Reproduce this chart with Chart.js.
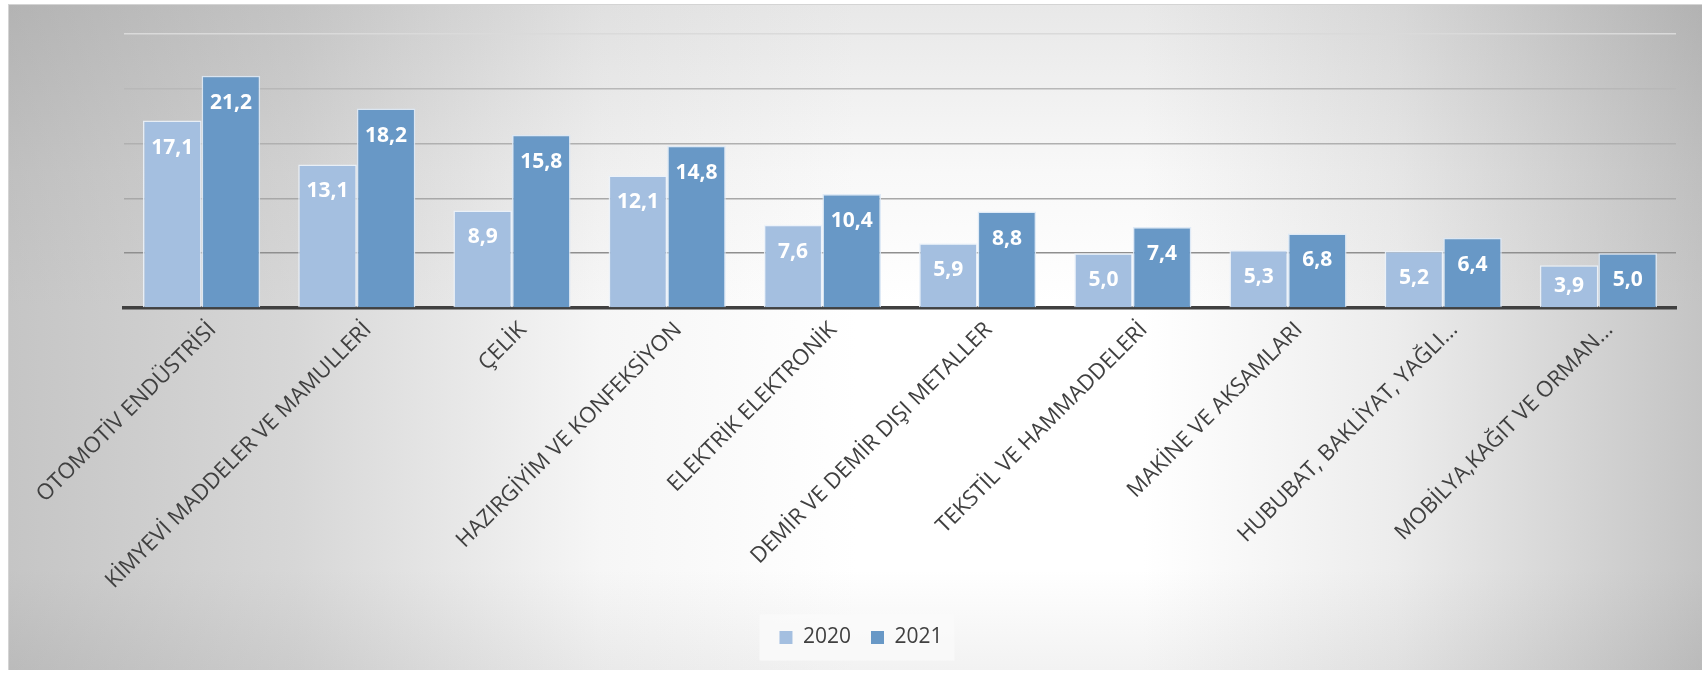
<!DOCTYPE html>
<html>
<head>
<meta charset="utf-8">
<script src="https://cdn.jsdelivr.net/npm/chart.js@4"></script>
<style>
  html, body { margin: 0; padding: 0; background: #fff; }
  body { width: 1702px; height: 673px; position: relative; overflow: hidden; }
  #box {
    position: absolute; left: 8px; top: 4px; width: 1694px; height: 666px;
    border-top: 1px solid #d4d4d4; border-left: 1px solid #d4d4d4;
    box-sizing: border-box;
    background-image:
      linear-gradient(to right, #c5c5c5 0%, #d7d7d7 17%, #f6f6f6 35%, #ffffff 50%, #ffffff 67%, #ececec 82%, #c4c4c4 100%),
      linear-gradient(to bottom, #e8e8e8 0%, #f8f8f8 25%, #ffffff 45%, #ffffff 85%, #f2f2f2 100%);
    background-blend-mode: multiply;
  }
  #wrap { position: absolute; left: 0; top: 0; width: 1693px; height: 665px; }
</style>
</head>
<body>
<div id="box"><div id="wrap"><canvas id="exportChart"></canvas></div></div>
<script>
const categories = [
  'OTOMOTİV ENDÜSTRİSİ',
  'KİMYEVİ MADDELER VE MAMULLERİ',
  'ÇELİK',
  'HAZIRGİYİM VE KONFEKSİYON',
  'ELEKTRİK ELEKTRONİK',
  'DEMİR VE DEMİR DIŞI METALLER',
  'TEKSTİL VE HAMMADDELERİ',
  'MAKİNE VE AKSAMLARI',
  'HUBUBAT, BAKLİYAT, YAĞLI...',
  'MOBİLYA,KAĞIT VE ORMAN...'
];
const values2020 = [17.1, 13.1, 8.9, 12.1, 7.6, 5.9, 5.0, 5.3, 5.2, 3.9];
const values2021 = [21.2, 18.2, 15.8, 14.8, 10.4, 8.8, 7.4, 6.8, 6.4, 5.0];
const seriesNames = ['2020', '2021'];
const yMax = 25;
const yStep = 5;

const gridColors = { 5: '#8f8f8f', 10: '#a8a8a8', 15: '#b0b0b0', 20: '#b8b8b8', 25: '#dadada' };

// white value labels inside the top of each bar
const barLabels = {
  id: 'barLabels',
  afterDatasetsDraw(chart) {
    const ctx = chart.ctx;
    ctx.save();
    ctx.fillStyle = '#ffffff';
    ctx.font = 'bold 21px "Open Sans"';
    ctx.textAlign = 'center';
    ctx.textBaseline = 'middle';
    chart.data.datasets.forEach(function (ds, i) {
      chart.getDatasetMeta(i).data.forEach(function (bar, j) {
        const top = bar.y, base = bar.base;
        const y = Math.min(top + 27, (top + base) / 2);
        ctx.fillText(ds.data[j].toFixed(1).replace('.', ','), bar.x, y);
      });
    });
    ctx.restore();
  }
};

// light panel behind the legend
const legendPanel = {
  id: 'legendPanel',
  beforeDraw(chart) {
    const lg = chart.legend;
    if (!lg || !lg.legendHitBoxes.length) return;
    const boxes = lg.legendHitBoxes;
    const left = boxes[0].left - 20;
    const last = boxes[boxes.length - 1];
    const right = last.left + last.width + 12;
    const cy = boxes[0].top + boxes[0].height / 2;
    const ctx = chart.ctx;
    ctx.save();
    ctx.fillStyle = 'rgba(250,250,250,0.9)';
    ctx.fillRect(left, cy - 23, right - left, 46);
    ctx.restore();
  }
};

const ctx = document.getElementById('exportChart').getContext('2d');
new Chart(ctx, {
  type: 'bar',
  data: {
    labels: categories,
    datasets: [{
      label: seriesNames[0],
      data: values2020,
      backgroundColor: '#a4bfe0',
      borderColor: 'rgba(235,242,250,0.9)',
      borderWidth: 1.5,
      barPercentage: 1,
      categoryPercentage: 0.755
    }, {
      label: seriesNames[1],
      data: values2021,
      backgroundColor: '#6898c6',
      borderColor: 'rgba(220,232,245,0.9)',
      borderWidth: 1.5,
      barPercentage: 1,
      categoryPercentage: 0.755
    }]
  },
  options: {
    responsive: true,
    maintainAspectRatio: false,
    animation: false,
    layout: { padding: { left: 37, right: 26, top: 29, bottom: 12 } },
    scales: {
      x: {
        grid: { display: false },
        border: { display: true, color: '#404040', width: 3.5 },
        ticks: {
          autoSkip: false,
          minRotation: 45,
          maxRotation: 45,
          padding: 1,
          labelOffset: 11,
          color: '#404040',
          font: { family: '"Open Sans"', size: 22 }
        },
        afterFit(scale) { scale.height = 299; }
      },
      y: {
        min: 0,
        max: yMax,
        ticks: { display: false, stepSize: yStep },
        border: { display: false },
        grid: {
          drawTicks: false,
          lineWidth: 1.5,
          color: function (c) {
            const v = c.tick ? c.tick.value : 0;
            return gridColors[v] || 'rgba(0,0,0,0)';
          }
        },
        afterFit(scale) { scale.width = 78; }
      }
    },
    plugins: {
      legend: {
        position: 'bottom',
        labels: {
          boxWidth: 13,
          boxHeight: 13,
          padding: 20,
          color: '#404040',
          font: { family: '"Open Sans"', size: 21 },
          generateLabels(chart) {
            return chart.data.datasets.map(function (ds, i) {
              return {
                text: ds.label,
                fillStyle: ds.backgroundColor,
                strokeStyle: 'rgba(0,0,0,0)',
                lineWidth: 0,
                fontColor: '#404040',
                datasetIndex: i,
                hidden: false
              };
            });
          }
        }
      },
      tooltip: { enabled: false }
    }
  },
  plugins: [legendPanel, barLabels]
});
</script>
</body>
</html>
